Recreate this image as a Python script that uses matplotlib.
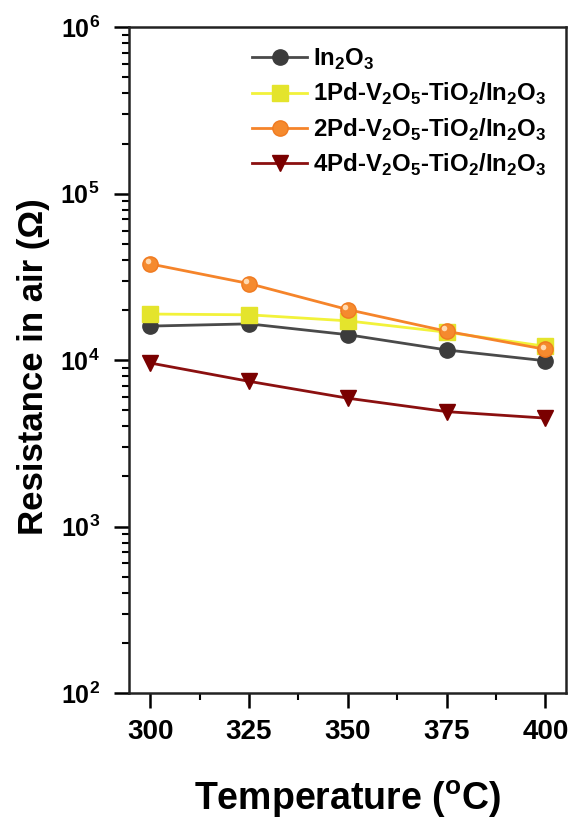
import numpy as np
import matplotlib.pyplot as plt
from matplotlib.ticker import LogLocator, NullFormatter, MultipleLocator
from matplotlib.transforms import offset_copy

plt.rcParams['font.family'] = ['Liberation Sans', 'DejaVu Sans']
plt.rcParams['font.weight'] = 'bold'
plt.rcParams['mathtext.fontset'] = 'custom'
plt.rcParams['mathtext.rm'] = 'Liberation Sans:bold'
plt.rcParams['mathtext.bf'] = 'Liberation Sans:bold'

temperature = [300, 325, 350, 375, 400]
r_in2o3 = [1.60e4, 1.65e4, 1.42e4, 1.15e4, 9.9e3]
r_1pd = [1.89e4, 1.87e4, 1.72e4, 1.47e4, 1.21e4]
r_2pd = [3.78e4, 2.88e4, 2.01e4, 1.49e4, 1.16e4]
r_4pd = [9.6e3, 7.45e3, 5.9e3, 4.9e3, 4.48e3]

labels = [r'In$_2$O$_3$',
          r'1Pd-V$_2$O$_5$-TiO$_2$/In$_2$O$_3$',
          r'2Pd-V$_2$O$_5$-TiO$_2$/In$_2$O$_3$',
          r'4Pd-V$_2$O$_5$-TiO$_2$/In$_2$O$_3$']

fig = plt.figure(figsize=(5.74, 8.23), dpi=100)
ax = fig.add_axes([0.2247, 0.158, 0.7613, 0.809])

ax.plot(temperature, r_in2o3, '-o', color='#4a4a4a', mfc='#3c3c3c', mec='#3c3c3c',
        ms=11, lw=2, label=labels[0])
ax.plot(temperature, r_1pd, '-s', color='#f2f23a', mfc='#e4e42c', mec='#e4e42c',
        ms=11, lw=2, label=labels[1])
ax.plot(temperature, r_2pd, '-o', color='#f5842a', mfc='#f58a2e', mec='#f07a20',
        ms=11, lw=2, label=labels[2])
# little highlight on the orange balls
hl = offset_copy(ax.transData, fig=fig, x=-2, y=2, units='points')
ax.plot(temperature, r_2pd, 'o', color='#ffd9b0', ms=4, mew=0, transform=hl)
ax.plot(temperature, r_4pd, '-v', color='#8b1010', mfc='#7a0000', mec='#7a0000',
        ms=12, lw=2, label=labels[3])

ax.set_yscale('log')
ax.set_ylim(1e2, 1e6)
ax.set_xlim(294.6, 405.2)
ax.xaxis.set_major_locator(MultipleLocator(25))
ax.xaxis.set_minor_locator(MultipleLocator(12.5))
ax.yaxis.set_major_locator(LogLocator(base=10, numticks=10))
ax.yaxis.set_minor_locator(LogLocator(base=10, subs=np.arange(2, 10), numticks=10))
ax.yaxis.set_minor_formatter(NullFormatter())

ax.tick_params(which='major', direction='out', length=11, width=1.8)
ax.tick_params(which='minor', direction='out', length=5, width=1.5)
ax.tick_params(axis='x', which='major', labelsize=20, pad=8)
ax.tick_params(axis='y', which='major', labelsize=18, pad=10)
ax.tick_params(right=False, top=False)
for s in ax.spines.values():
    s.set_linewidth(1.8)
    s.set_color('#222222')
for lab in ax.get_xticklabels() + ax.get_yticklabels():
    lab.set_fontweight('bold')

ax.set_xlabel('Temperature ($\\mathregular{^{o}}$C)', fontsize=27, fontweight='bold', labelpad=24)
ax.set_ylabel('Resistance in air (\u03a9)', fontsize=25, fontweight='bold')
ax.yaxis.set_label_coords(-0.18, 0.49)

ax.legend(loc='upper left', bbox_to_anchor=(0.26, 0.985), frameon=False, fontsize=17.3,
          handlelength=2.3, handletextpad=0.25, labelspacing=0.38, borderaxespad=0)

fig.savefig('out.png', dpi=100)
